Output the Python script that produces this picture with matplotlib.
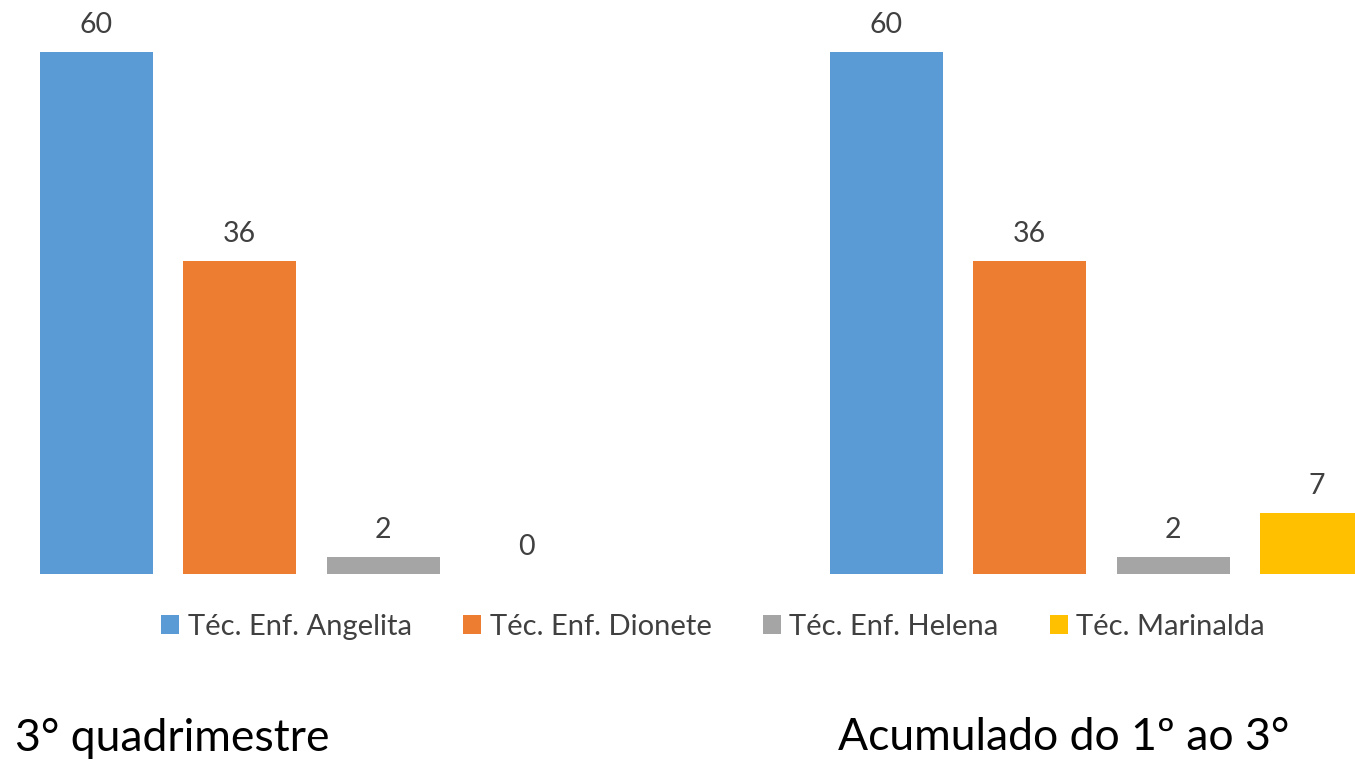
import matplotlib.pyplot as plt
import numpy as np

plt.rcParams['font.family'] = ['Lato', 'DejaVu Sans']

categories = ["3° quadrimestre", "Acumulado do 1º ao 3°"]
series_names = ["Téc. Enf. Angelita", "Téc. Enf. Dionete", "Téc. Enf. Helena", "Téc. Marinalda"]
values = {
    "Téc. Enf. Angelita": [60, 60],
    "Téc. Enf. Dionete": [36, 36],
    "Téc. Enf. Helena": [2, 2],
    "Téc. Marinalda": [0, 7],
}
colors = ["#5B9BD5", "#ED7D31", "#A5A5A5", "#FFC000"]

W, H = 1355, 761
fig = plt.figure(figsize=(W / 100, H / 100), dpi=100)

# plot area: baseline at y=574px, top of 60 at y=52px
ax = fig.add_axes([0, 1 - 574 / H, 1, (574 - 52) / H])

x = np.arange(len(categories))
step = 143.5 / 790
width = 113 / 790
for i, name in enumerate(series_names):
    pos = x + (i - 1.5) * step
    vals = values[name]
    ax.bar(pos, vals, width, color=colors[i], label=name)
    for p, v in zip(pos, vals):
        ax.text(p, v + 1.6, str(v), ha="center", va="bottom",
                fontsize=20.5, color="#404040", clip_on=False)

ax.set_xlim(-311.5 / 790, (W - 311.5) / 790)
ax.set_ylim(0, 60)
ax.axis("off")

leg = fig.legend(loc="center", bbox_to_anchor=(713 / W, 1 - 627 / H), ncol=4,
                 frameon=False, fontsize=21, handlelength=0.62, handleheight=0.62,
                 handletextpad=0.3, columnspacing=1.75, labelcolor="#404040")

# category labels
fig.text(15 / W, 1 - 738 / H, categories[0], ha="left", va="center", fontsize=32, color="#000000")
fig.text(838 / W, 1 - 738 / H, categories[1], ha="left", va="center", fontsize=32, color="#000000")

fig.savefig("out.png", dpi=100)
